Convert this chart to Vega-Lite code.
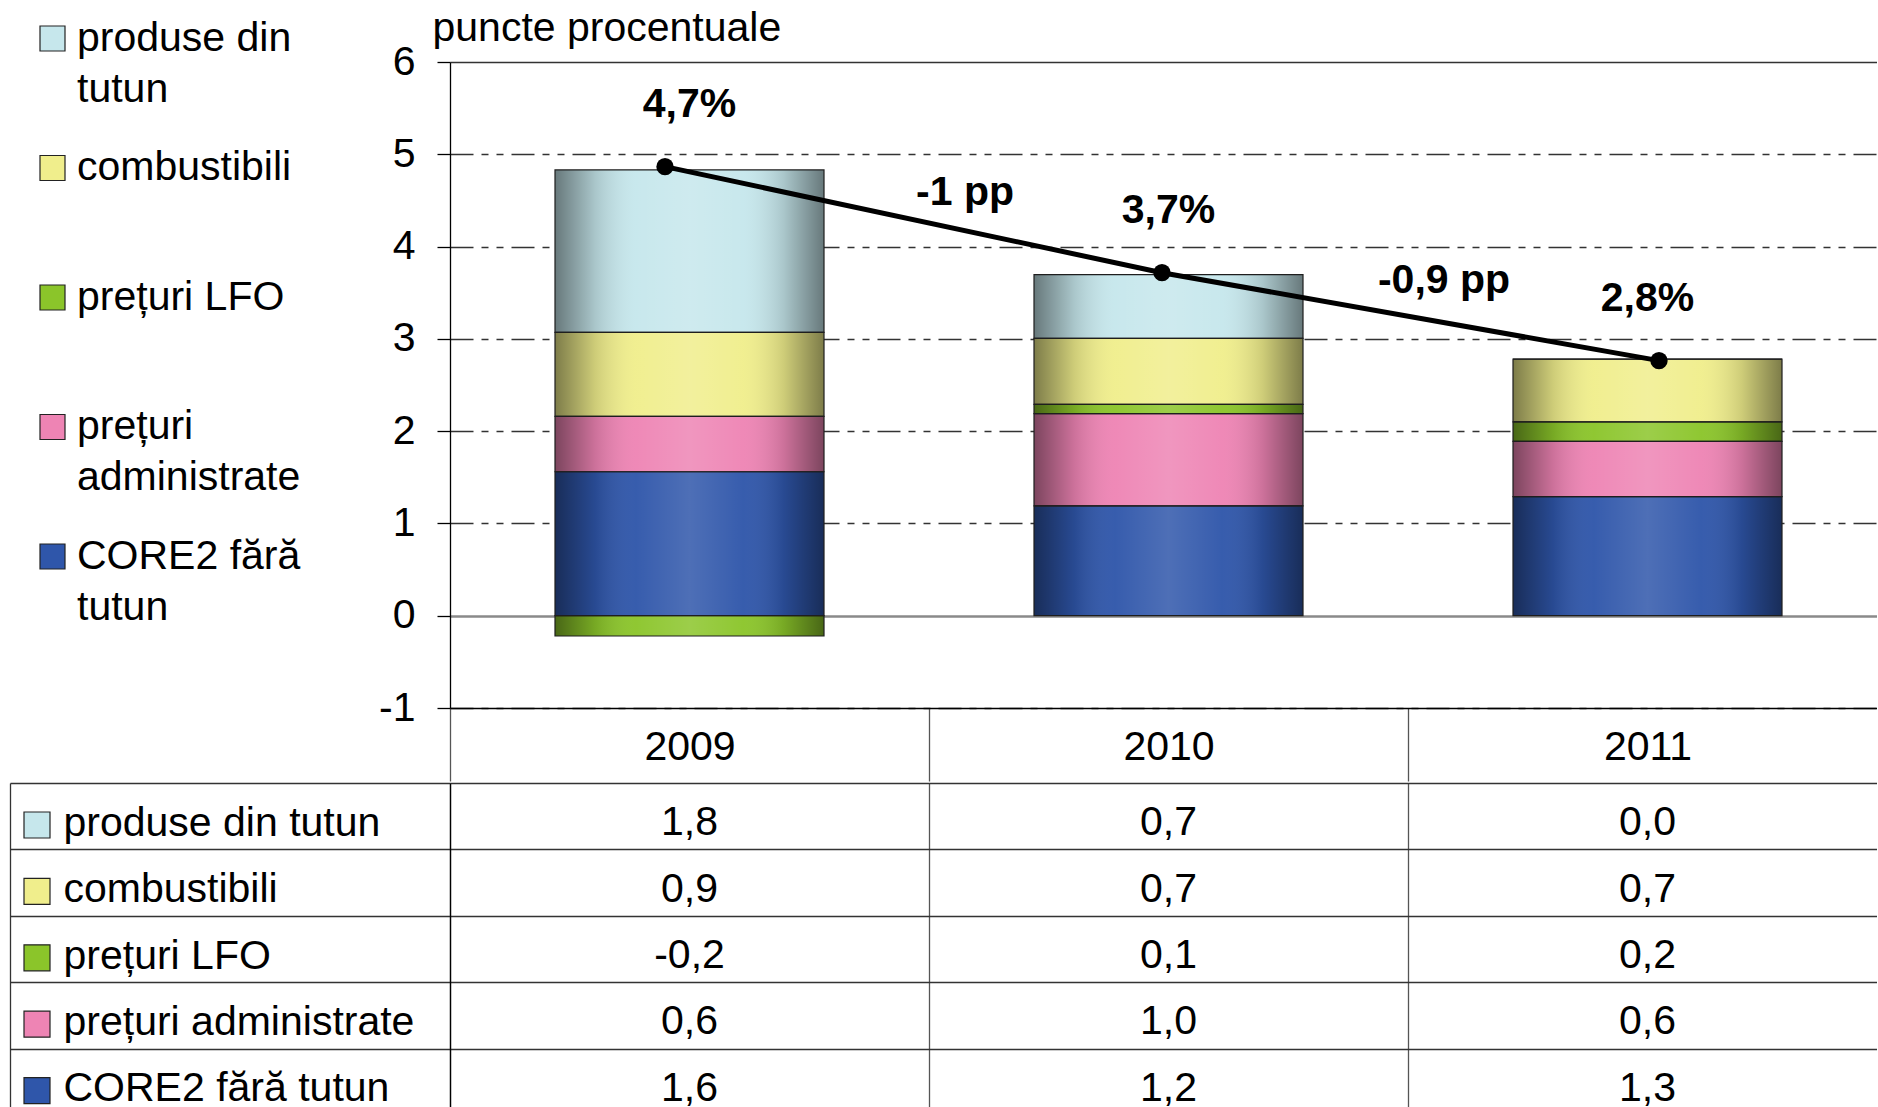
{
  "$schema": "https://vega.github.io/schema/vega-lite/v6.json",
  "padding": {"left": 9, "top": 7, "right": -11, "bottom": 0},
  "config": {
    "font": "Liberation Sans",
    "view": {"stroke": null},
    "concat": {"spacing": -20},
    "locale": {"number": {"decimal": ",", "thousands": ".", "grouping": [3], "currency": ["", ""], "minus": "-"}},
    "style": {"guide-label": {"lineHeight": 51}}
  },
  "datasets": {
    "bars": [
      {"year": "2009", "series": "CORE2 fără tutun", "value": 1.56},
      {"year": "2009", "series": "prețuri administrate", "value": 0.6},
      {"year": "2009", "series": "prețuri LFO", "value": -0.22},
      {"year": "2009", "series": "combustibili", "value": 0.91},
      {"year": "2009", "series": "produse din tutun", "value": 1.76},
      {"year": "2010", "series": "CORE2 fără tutun", "value": 1.19},
      {"year": "2010", "series": "prețuri administrate", "value": 1.0},
      {"year": "2010", "series": "prețuri LFO", "value": 0.1},
      {"year": "2010", "series": "combustibili", "value": 0.715},
      {"year": "2010", "series": "produse din tutun", "value": 0.69},
      {"year": "2011", "series": "CORE2 fără tutun", "value": 1.29},
      {"year": "2011", "series": "prețuri administrate", "value": 0.6},
      {"year": "2011", "series": "prețuri LFO", "value": 0.21},
      {"year": "2011", "series": "combustibili", "value": 0.68},
      {"year": "2011", "series": "produse din tutun", "value": 0.0}
    ],
    "totals": [
      {"year": "2009", "total": 4.866, "label": "4,7%", "change": null},
      {"year": "2010", "total": 3.717, "label": "3,7%", "change": "-1 pp"},
      {"year": "2011", "total": 2.764, "label": "2,8%", "change": "-0,9 pp"}
    ]
  },
  "spacing": -20,
  "resolve": {
    "scale": {"color": "independent", "x": "independent", "y": "independent"},
    "legend": {"color": "independent"},
    "axis": {"x": "independent", "y": "independent"}
  },
  "vconcat": [
    {
      "width": 1437,
      "height": 646,
      "layer": [
        {
          "layer": [
            {
              "data": {"name": "bars"},
              "transform": [{"calculate": "indexof(['CORE2 fără tutun','prețuri administrate','prețuri LFO','combustibili','produse din tutun'], datum.series)", "as": "k"}],
              "mark": {"type": "bar", "width": {"band": 0.5616}},
              "encoding": {
                "x": {
                  "field": "year", "type": "nominal",
                  "scale": {"type": "band", "paddingInner": 0, "paddingOuter": 0},
                  "axis": {
                    "title": null, "labelAngle": 0, "labelFontSize": 41, "labelColor": "black",
                    "tickBand": "extent", "tickSize": 73, "tickColor": "#555", "tickWidth": 1.3,
                    "labelPadding": -54, "domainColor": "black", "domainWidth": 1.3, "grid": false
                  }
                },
                "y": {
                  "field": "value", "type": "quantitative", "stack": "zero",
                  "scale": {"domain": [-1, 6], "nice": false, "zero": false},
                  "axis": {
                    "values": [-1, 0, 1, 2, 3, 4, 5, 6], "format": "d",
                    "title": "puncte procentuale", "titleAngle": 0, "titleAlign": "left", "titleBaseline": "alphabetic",
                    "titleX": -18, "titleY": -22, "titleFontSize": 41, "titleFontWeight": "normal", "titleColor": "black",
                    "labelFontSize": 41, "labelColor": "black", "labelPadding": 22,
                    "tickSize": 13, "tickColor": "black", "tickWidth": 1.3,
                    "domainColor": "black", "domainWidth": 1.3,
                    "grid": true,
                    "gridColor": {"condition": {"test": "datum.value == 0", "value": "#8a8a8a"}, "value": "#333333"},
                    "gridDash": {"condition": {"test": "datum.value == 0 || datum.value == 6", "value": []}, "value": [23, 8, 7, 8, 7, 8]},
                    "gridWidth": {"condition": {"test": "datum.value == 0", "value": 2.5}, "value": 1.3}
                  }
                },
                "color": {
                  "field": "series", "type": "nominal",
                  "scale": {
                    "domain": ["CORE2 fără tutun", "prețuri administrate", "prețuri LFO", "combustibili", "produse din tutun"],
                    "range": ["#2f56aa", "#ee84b4", "#8bc52a", "#f0ee8c", "#c6e7ec"]
                  },
                  "legend": {
                    "orient": "none", "legendX": -418, "legendY": -44, "padding": 0,
                    "values": ["produse din tutun", "combustibili", "prețuri LFO", "prețuri administrate", "CORE2 fără tutun"],
                    "title": null, "symbolType": "square", "symbolSize": 625,
                    "symbolStrokeColor": "#222222", "symbolStrokeWidth": 1.2,
                    "labelFontSize": 41, "labelColor": "black", "labelOffset": 4, "labelLimit": 500,
                    "rowPadding": 36.5,
                    "labelExpr": "datum.label == 'produse din tutun' ? ['produse din', 'tutun'] : datum.label == 'prețuri administrate' ? ['prețuri', 'administrate'] : datum.label == 'CORE2 fără tutun' ? ['CORE2 fără', 'tutun'] : [datum.label, '']"
                  }
                },
                "order": {"field": "k", "type": "quantitative"}
              }
            },
            {
              "data": {"name": "bars"},
              "transform": [{"calculate": "indexof(['CORE2 fără tutun','prețuri administrate','prețuri LFO','combustibili','produse din tutun'], datum.series)", "as": "k"}],
              "mark": {
                "type": "bar", "width": {"band": 0.5616}, "stroke": "#1e1e1e", "strokeWidth": 1.2,
                "fill": {
                  "gradient": "linear", "x1": 0, "y1": 0, "x2": 1, "y2": 0,
                  "stops": [
                    {"offset": 0, "color": "rgba(0,0,0,0.48)"},
                    {"offset": 0.15, "color": "rgba(0,0,0,0.14)"},
                    {"offset": 0.3, "color": "rgba(255,255,255,0.04)"},
                    {"offset": 0.5, "color": "rgba(255,255,255,0.15)"},
                    {"offset": 0.7, "color": "rgba(255,255,255,0.04)"},
                    {"offset": 0.85, "color": "rgba(0,0,0,0.14)"},
                    {"offset": 1, "color": "rgba(0,0,0,0.48)"}
                  ]
                }
              },
              "encoding": {
                "x": {"field": "year", "type": "nominal"},
                "y": {"field": "value", "type": "quantitative", "stack": "zero"},
                "detail": {"field": "series", "type": "nominal"},
                "order": {"field": "k", "type": "quantitative"}
              }
            },
            {
              "data": {"name": "totals"},
              "mark": {"type": "text", "fontSize": 41, "fontWeight": "bold", "color": "black", "baseline": "middle", "dy": -62},
              "encoding": {
                "x": {"field": "year", "type": "nominal"},
                "y": {"field": "total", "type": "quantitative"},
                "text": {"field": "label", "type": "nominal"}
              }
            },
            {
              "data": {"name": "totals"},
              "transform": [{"filter": "datum.change != null"}],
              "mark": {"type": "text", "fontSize": 41, "fontWeight": "bold", "color": "black", "baseline": "middle", "dx": 36, "dy": -80},
              "encoding": {
                "x": {"field": "year", "type": "nominal", "bandPosition": 0},
                "y": {"field": "total", "type": "quantitative"},
                "text": {"field": "change", "type": "nominal"}
              }
            }
          ]
        },
        {
          "data": {"name": "totals"},
          "encoding": {
            "x": {"field": "year", "type": "ordinal", "scale": {"type": "point", "range": [215, 1209], "padding": 0}, "axis": null},
            "y": {"field": "total", "type": "quantitative"}
          },
          "layer": [
            {"mark": {"type": "line", "color": "black", "strokeWidth": 5}},
            {"mark": {"type": "circle", "size": 300, "color": "black", "opacity": 1}}
          ]
        }
      ],
      "resolve": {"scale": {"x": "independent"}}
    },
    {
      "width": 1437,
      "height": 332,
      "data": {"name": "bars"},
      "layer": [
        {
          "mark": {"type": "text", "fontSize": 41, "color": "black", "baseline": "middle", "dy": 7},
          "encoding": {
            "x": {
              "field": "year", "type": "nominal",
              "scale": {"type": "band", "paddingInner": 0, "paddingOuter": 0},
              "axis": {"title": null, "orient": "top", "labels": false, "ticks": false, "domain": false, "grid": true, "tickBand": "extent", "gridColor": "#555555", "gridWidth": 1.3, "minExtent": 0, "maxExtent": 0, "labelPadding": 0, "titlePadding": 0, "offset": 0}
            },
            "y": {
              "field": "series", "type": "nominal",
              "sort": ["produse din tutun", "combustibili", "prețuri LFO", "prețuri administrate", "CORE2 fără tutun"],
              "scale": {"type": "band", "paddingInner": 0, "paddingOuter": 0},
              "axis": {
                "title": null, "orient": "left", "domain": true, "domainColor": "black", "domainWidth": 1.3,
                "ticks": true, "tickBand": "extent", "tickSize": 440, "tickColor": "#333333", "tickWidth": 1.3,
                "grid": true, "gridColor": "#333333", "gridWidth": 1.3,
                "labelAlign": "left", "labelBaseline": "middle", "labelFontSize": 41, "labelColor": "black",
                "labelPadding": -53, "labelOffset": 7, "labelLimit": 600
              }
            },
            "text": {"field": "value", "type": "quantitative", "format": ".1f"}
          }
        },
        {
          "mark": {"type": "square", "size": 0, "opacity": 0},
          "encoding": {
            "y": {
              "field": "series", "type": "nominal",
              "sort": ["produse din tutun", "combustibili", "prețuri LFO", "prețuri administrate", "CORE2 fără tutun"],
              "axis": {"title": null, "orient": "left", "offset": 440, "domain": true, "domainColor": "#333333", "domainWidth": 1.3, "ticks": false, "labels": false, "grid": false}
            },
            "color": {
              "field": "series", "type": "nominal",
              "scale": {
                "domain": ["CORE2 fără tutun", "prețuri administrate", "prețuri LFO", "combustibili", "produse din tutun"],
                "range": ["#2f56aa", "#ee84b4", "#8bc52a", "#f0ee8c", "#c6e7ec"]
              },
              "legend": {
                "orient": "none", "legendX": -427, "legendY": 28, "padding": 0,
                "values": ["produse din tutun", "combustibili", "prețuri LFO", "prețuri administrate", "CORE2 fără tutun"],
                "title": null, "symbolType": "square", "symbolSize": 676, "symbolOpacity": 1,
                "symbolStrokeColor": "#222222", "symbolStrokeWidth": 1.2,
                "labelExpr": "''", "labelFontSize": 1, "rowPadding": 34.4
              }
            }
          }
        }
      ],
      "resolve": {"axis": {"y": "independent"}}
    }
  ]
}
